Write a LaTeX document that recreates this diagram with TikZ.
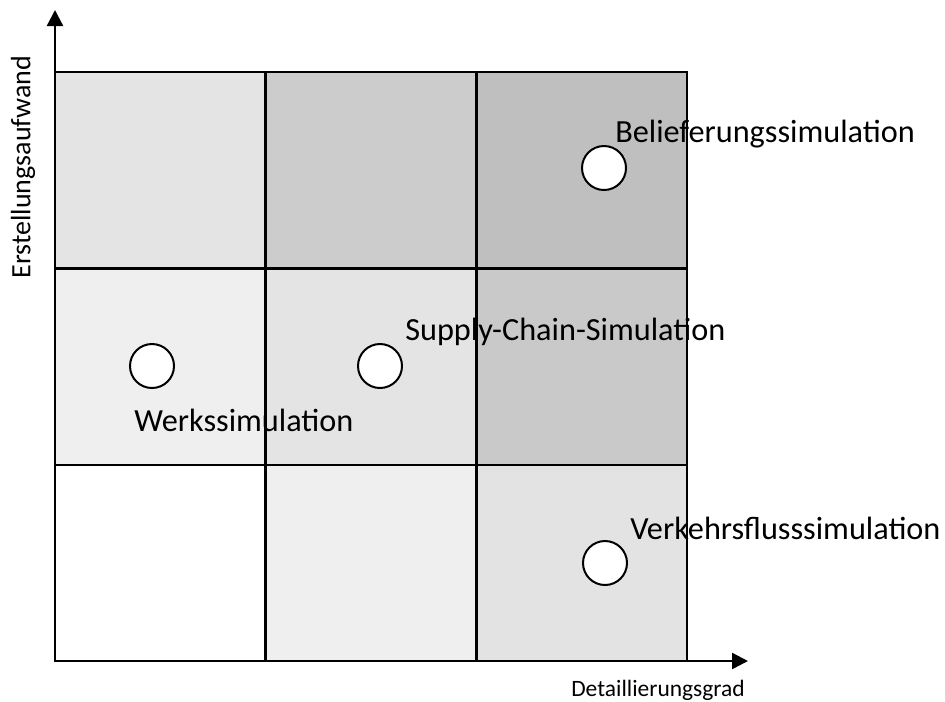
\documentclass[tikz,border=0pt]{standalone}
\usepackage{fontspec}
\setmainfont{Carlito}
\usetikzlibrary{arrows.meta}
\definecolor{cTL}{HTML}{E4E4E4}
\definecolor{cTM}{HTML}{CCCCCC}
\definecolor{cTR}{HTML}{BFBFBF}
\definecolor{cML}{HTML}{EFEFEF}
\definecolor{cMC}{HTML}{E4E4E4}
\definecolor{cMR}{HTML}{C9C9C9}
\definecolor{cBL}{HTML}{FFFFFF}
\definecolor{cBM}{HTML}{EFEFEF}
\definecolor{cBR}{HTML}{E3E3E3}
\begin{document}
\begin{tikzpicture}[x=0.75pt,y=-0.75pt,
  cell/.style={draw=black,line width=1.5pt,minimum width=157.5pt,minimum height=147pt,inner sep=0pt,outer sep=0pt},
  marker/.style={circle,draw=black,fill=white,line width=1.5pt,minimum size=33pt,inner sep=0pt},
  lbl/.style={font=\fontsize{24.2}{28}\selectfont,inner sep=0pt,anchor=west},
  axlbl/.style={font=\fontsize{17.6}{21}\selectfont,inner sep=0pt},
  axis/.style={line width=1.8pt,-{Triangle[length=12pt,width=12pt]}}]
\useasboundingbox (0,0) rectangle (945,701);
% 3x3 grid of shaded cells
\node[cell,fill=cTL] (tl) at (160,170) {};
\node[cell,fill=cTM] (tm) at (371,170) {};
\node[cell,fill=cTR] (tr) at (582,170) {};
\node[cell,fill=cML] (ml) at (160,366.5) {};
\node[cell,fill=cMC] (mc) at (371,366.5) {};
\node[cell,fill=cMR] (mr) at (582,366.5) {};
\node[cell,fill=cBL] (bl) at (160,563) {};
\node[cell,fill=cBM] (bm) at (371,563) {};
\node[cell,fill=cBR] (br) at (582,563) {};
% axes
\coordinate (o) at (55,661);
\coordinate (ytip) at (55,10);
\coordinate (xtip) at (748,661);
\draw[axis] (o) -- (ytip);
\draw[axis] (o) -- (xtip);
\node[axlbl,rotate=90,font=\fontsize{21}{25}\selectfont] (ylab) at (23,167) {Erstellungsaufwand};
\node[axlbl] (xlab) at (658,690) {Detaillierungsgrad};
% simulation types
\node[marker] (c1) at (604,168) {};
\node[marker] (c2) at (152,366) {};
\node[marker] (c3) at (380,366) {};
\node[marker] (c4) at (605,563) {};
\node[lbl] (t1) at (615,134) {Belieferungssimulation};
\node[lbl] (t2) at (405,332) {Supply-Chain-Simulation};
\node[lbl] (t3) at (134,420) {Werkssimulation};
\node[lbl] (t4) at (630,528) {Verkehrsflusssimulation};
\end{tikzpicture}
\end{document}
